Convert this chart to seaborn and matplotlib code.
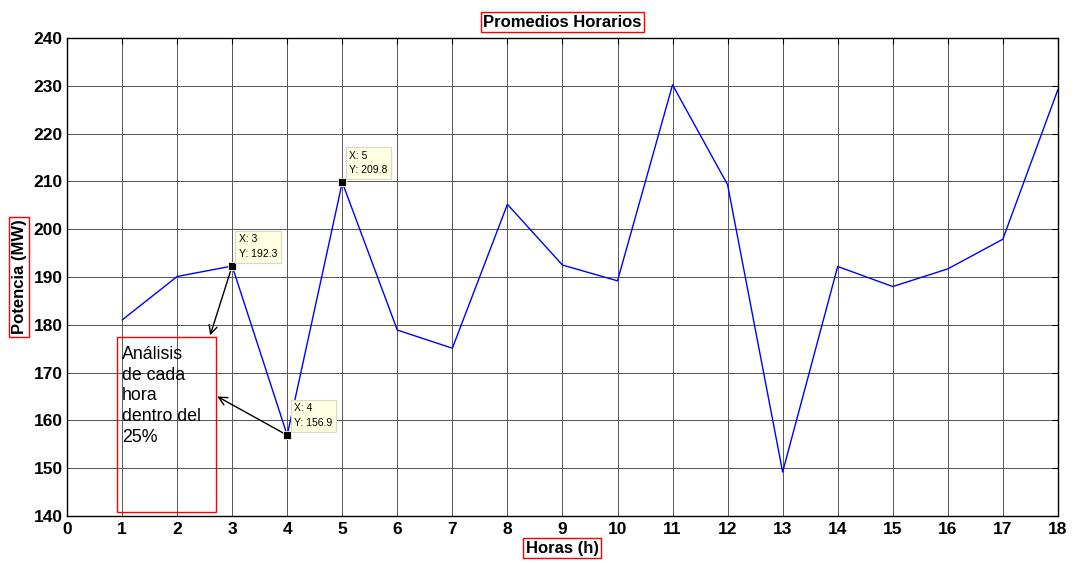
import matplotlib.pyplot as plt
import pandas as pd
import seaborn as sns

# data
horas = list(range(1, 19))
potencia = [181.0, 190.1, 192.3, 156.9, 209.8, 178.9, 175.1, 205.2, 192.5,
            189.2, 230.2, 209.3, 149.2, 192.2, 188.0, 191.7, 197.9, 229.2]
tip_horas = [3, 4, 5]
tip_labels = ["X: 3\nY: 192.3", "X: 4\nY: 156.9", "X: 5\nY: 209.8"]

x_ticks = list(range(0, 19))
y_ticks = list(range(140, 241, 10))

df = pd.DataFrame({"hora": horas, "potencia": potencia})

sns.set_style("white")
plt.rcParams["font.family"] = ["Liberation Sans", "DejaVu Sans"]
plt.rcParams.update({"text.color": "black", "axes.labelcolor": "black",
                     "xtick.color": "black", "ytick.color": "black"})

fig = plt.figure(figsize=(10.74, 5.63), dpi=100)
ax = fig.add_axes([0.0624, 0.0835, 0.9226, 0.849])

sns.lineplot(data=df, x="hora", y="potencia", color="#0000ff", linewidth=1.0, ax=ax)

ax.set_xlim(0, 18)
ax.set_ylim(140, 240)
ax.set_xticks(x_ticks)
ax.set_yticks(y_ticks)
ax.grid(True, color="#555555", linewidth=0.7)
ax.tick_params(direction="in", top=True, right=True, length=4, width=0.8,
               labelsize=12.5)
ax.tick_params(axis="x", pad=4)
ax.tick_params(axis="y", pad=3)
for lbl in ax.get_xticklabels() + ax.get_yticklabels():
    lbl.set_fontweight("bold")
for side in ax.spines.values():
    side.set_color("black")
    side.set_linewidth(1.0)

red_box = dict(boxstyle="square,pad=0.15", facecolor="white", edgecolor="red", linewidth=1)
ax.set_title("Promedios Horarios", fontsize=12, fontweight="bold", pad=8, bbox=red_box)
ax.set_xlabel("Horas (h)", fontsize=12, fontweight="bold", labelpad=3, bbox=red_box)
ax.set_ylabel("Potencia (MW)", fontsize=12, fontweight="bold", labelpad=5, bbox=red_box)

# data tips
tips = df[df["hora"].isin(tip_horas)]
ax.plot(tips["hora"], tips["potencia"], "s", color="black", markersize=6,
        markeredgecolor="#ffffe1", markeredgewidth=0.6, zorder=5)
for (_, row), txt in zip(tips.iterrows(), tip_labels):
    ax.annotate(txt, (row["hora"], row["potencia"]), xytext=(5, 5),
                textcoords="offset points", fontsize=7.5, ha="left", va="bottom",
                linespacing=1.6, zorder=6,
                bbox=dict(boxstyle="square,pad=0.35", facecolor="#ffffe1",
                          edgecolor="#d8d8c8", linewidth=0.8))

# annotation box and arrows
ax.add_patch(plt.Rectangle((0.91, 140.8), 1.8, 36.6, fill=False,
                           edgecolor="red", linewidth=1, zorder=4))
ax.text(1.0, 175.6, "Análisis\nde cada\nhora\ndentro del\n25%", fontsize=12.8,
        ha="left", va="top", linespacing=1.29, zorder=4)
arrow = dict(arrowstyle="->,head_length=0.6,head_width=0.3", color="black",
             linewidth=1, shrinkA=0, shrinkB=0)
ax.annotate("", xy=(2.6, 177.8), xytext=(3, 192.3), arrowprops=arrow, zorder=4)
ax.annotate("", xy=(2.73, 165.0), xytext=(4, 156.9), arrowprops=arrow, zorder=4)

fig.savefig("out.png", dpi=100)
